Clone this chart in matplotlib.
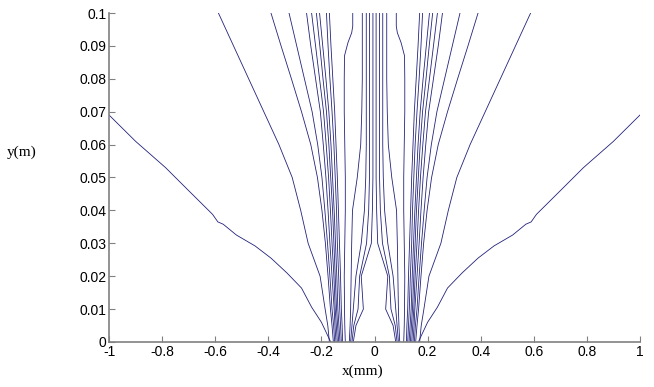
import numpy as np
import matplotlib
matplotlib.use("Agg")
import matplotlib.pyplot as plt

# common y levels for the fan lines (metres)
y_lvl = [0, 0.005, 0.01, 0.02, 0.03, 0.04, 0.05, 0.06, 0.07, 0.08, 0.09, 0.1]

# right-hand lines, x (mm) at each y level; left side is the mirror image
fan_lines = [
    [0.170, 0.176, 0.186, 0.205, 0.250, 0.278, 0.310, 0.360, 0.417, 0.474, 0.531, 0.588],
    [0.155, 0.160, 0.166, 0.175, 0.185, 0.198, 0.215, 0.240, 0.275, 0.313, 0.352, 0.390],
    [0.150, 0.154, 0.160, 0.168, 0.177, 0.187, 0.198, 0.214, 0.235, 0.264, 0.293, 0.322],
    [0.145, 0.149, 0.152, 0.160, 0.168, 0.175, 0.183, 0.193, 0.204, 0.222, 0.240, 0.256],
    [0.140, 0.144, 0.148, 0.153, 0.160, 0.166, 0.173, 0.182, 0.192, 0.207, 0.222, 0.237],
    [0.135, 0.139, 0.143, 0.148, 0.153, 0.158, 0.165, 0.172, 0.181, 0.194, 0.206, 0.219],
    [0.130, 0.134, 0.138, 0.142, 0.147, 0.152, 0.158, 0.164, 0.172, 0.183, 0.195, 0.207],
    [0.125, 0.128, 0.131, 0.135, 0.140, 0.143, 0.148, 0.153, 0.160, 0.168, 0.175, 0.181],
    [0.120, 0.122, 0.125, 0.128, 0.132, 0.136, 0.140, 0.145, 0.150, 0.157, 0.164, 0.170],
    [0.095, 0.092, 0.090, 0.088, 0.086, 0.083, 0.065, 0.052, 0.048, 0.046, 0.046, 0.046],
    [0.090, 0.085, 0.080, 0.070, 0.050, 0.038, 0.033, 0.031, 0.031, 0.031, 0.031, 0.031],
    [0.085, 0.078, 0.062, 0.056, 0.030, 0.022, 0.019, 0.019, 0.019, 0.019, 0.019, 0.019],
    [0.080, 0.070, 0.042, 0.050, 0.012, 0.008, 0.006, 0.006, 0.006, 0.006, 0.006, 0.006],
]

# line with the narrow neck near the top
neck_x = [0.110, 0.112, 0.113, 0.114, 0.112, 0.110, 0.110, 0.112, 0.114, 0.114, 0.113, 0.100, 0.086, 0.082, 0.082]
neck_y = [0, 0.005, 0.01, 0.02, 0.03, 0.04, 0.05, 0.06, 0.07, 0.08, 0.087, 0.091, 0.094, 0.096, 0.1]

# outermost line, reaching the side of the plot
outer_x = [0.165, 0.200, 0.237, 0.275, 0.330, 0.390, 0.450, 0.520, 0.570, 0.590, 0.610, 0.700, 0.787, 0.900, 1.0]
outer_y = [0, 0.006, 0.0106, 0.0164, 0.021, 0.0255, 0.0292, 0.0325, 0.0358, 0.0365, 0.0388, 0.046, 0.053, 0.061, 0.069]

x_ticks = [-1, -0.8, -0.6, -0.4, -0.2, 0, 0.2, 0.4, 0.6, 0.8, 1]
x_labels = ['-1', '-0.8', '-0.6', '-0.4', '-0.2', '0', '0.2', '0.4', '0.6', '0.8', '1']
y_ticks = [0, 0.01, 0.02, 0.03, 0.04, 0.05, 0.06, 0.07, 0.08, 0.09, 0.1]
y_labels = ['0', '0.01', '0.02', '0.03', '0.04', '0.05', '0.06', '0.07', '0.08', '0.09', '0.1']

line_col = '#22227c'

fig = plt.figure(figsize=(6.54, 3.87), dpi=100)
ax = fig.add_axes([0.1667, 0.1163, 0.8119, 0.8501])

for xs in fan_lines:
    xs = np.array(xs)
    ax.plot(xs, y_lvl, color=line_col, lw=0.6)
    ax.plot(-xs, y_lvl, color=line_col, lw=0.6)

for xs, ys in [(neck_x, neck_y), (outer_x, outer_y)]:
    xs = np.array(xs)
    ax.plot(xs, ys, color=line_col, lw=0.6)
    ax.plot(-xs, ys, color=line_col, lw=0.6)

ax.set_xlim(-1, 1)
ax.set_ylim(0, 0.1)
ax.set_xticks(x_ticks)
ax.set_xticklabels(x_labels)
ax.set_yticks(y_ticks)
ax.set_yticklabels(y_labels)

for s in ['top', 'right']:
    ax.spines[s].set_visible(False)
for s in ['left', 'bottom']:
    ax.spines[s].set_color('#808080')
    ax.spines[s].set_linewidth(1.2)

ax.tick_params(direction='in', length=4, width=0.8, color='#808080',
               labelsize=10, pad=2)
for lab in ax.get_xticklabels() + ax.get_yticklabels():
    lab.set_family('Liberation Sans')

fig.text(0.555, 0.04, 'x(mm)', family='Liberation Serif', fontsize=11,
         ha='center', va='center')
fig.text(0.011, 0.607, 'y(m)', family='Liberation Serif', fontsize=11,
         ha='left', va='center')

fig.savefig('out.png', dpi=100)
